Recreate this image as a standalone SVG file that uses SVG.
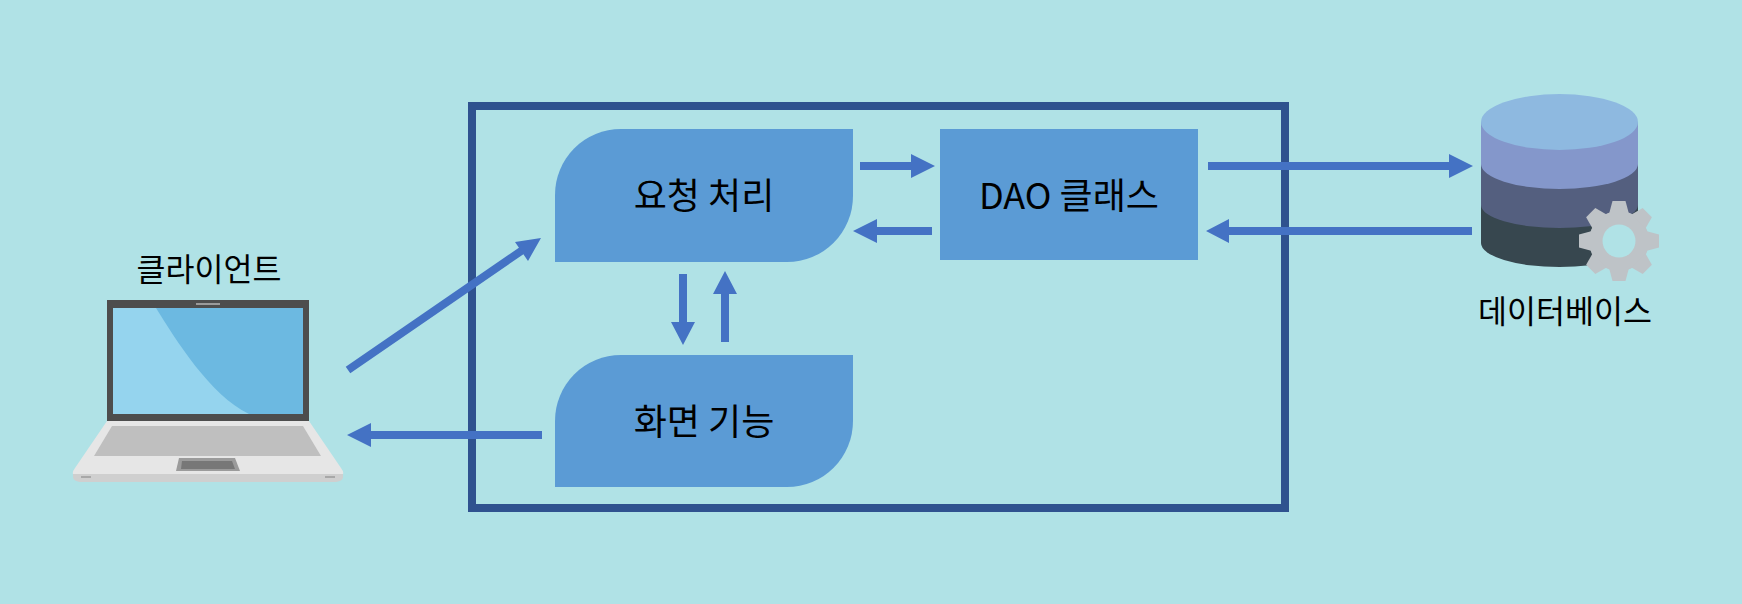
<svg xmlns="http://www.w3.org/2000/svg" width="1742" height="604" viewBox="0 0 1742 604">
<style>
.t{font-family:"Noto Sans CJK KR","Noto Sans",sans-serif;font-size:36px;fill:#000;text-anchor:middle}
.l{font-size:31.500px}
.box{fill:#5B9BD5}
.c{stroke:#4472C4;stroke-width:8;fill:none}
.h{fill:#4472C4}
</style>
<defs><path id="tooth" d="M1609 214L1612.500 201H1625.500L1629 214Z" fill="#BEC3C7"/></defs>
<rect width="1742" height="604" fill="#B0E2E6"/>
<g id="frame"><rect x="472" y="106" width="813" height="402" fill="none" stroke="#2F528F" stroke-width="8"/></g>
<g id="node-request"><path class="box" d="M621 129H853V196A66 66 0 0 1 787 262H555V195A66 66 0 0 1 621 129Z"/><text class="t" x="704" y="209">요청 처리</text></g>
<g id="node-dao"><rect class="box" x="940" y="129" width="258" height="131"/><text class="t" x="1069" y="209">DAO 클래스</text></g>
<g id="node-view"><path class="box" d="M621 355H853V421A66 66 0 0 1 787 487H555V421A66 66 0 0 1 621 355Z"/><text class="t" x="704" y="435">화면 기능</text></g>
<g id="node-client">
<text class="t l" x="209" y="281">클라이언트</text>
<rect x="107" y="300" width="202" height="121" fill="#4D4D4D"/>
<rect x="196" y="303" width="24" height="2" fill="#9A9A9A"/>
<rect x="113" y="308" width="190" height="106" fill="#6CB9E1"/>
<path d="M113 308H156C176 340 210 395 249 414H113Z" fill="#95D4EE"/>
<path d="M107 421H309L341 468Q344 472 343 474H73Q72 472 75 468Z" fill="#E6E6E6"/>
<path d="M73 474H343V477Q343 481 336 482H80Q73 481 73 477Z" fill="#CFCFCF"/>
<path d="M112 426H303L321 456H94Z" fill="#BFBFBF"/>
<path d="M179 458H235L240 471H176Z" fill="#9B9B9B"/>
<path d="M182 461H232L235 469H181Z" fill="#777"/>
<rect x="81" y="476" width="10" height="2" fill="#A8A8A8"/>
<rect x="325" y="476" width="10" height="2" fill="#A8A8A8"/>
</g>
<g id="node-database">
<path d="M1481 200H1638V243A78.500 24 0 0 1 1481 243Z" fill="#37474F"/>
<path d="M1481 150H1638V205A78.500 23 0 0 1 1481 205Z" fill="#545F7F"/>
<path d="M1481 122H1638V164A78.500 25 0 0 1 1481 164Z" fill="#8497CB"/>
<ellipse cx="1559.500" cy="122" rx="78.500" ry="28" fill="#8EB9E0"/>
<circle cx="1619" cy="241" r="30" fill="#BEC3C7"/>
<use href="#tooth"/>
<use href="#tooth" transform="rotate(45 1619 241)"/>
<use href="#tooth" transform="rotate(90 1619 241)"/>
<use href="#tooth" transform="rotate(135 1619 241)"/>
<use href="#tooth" transform="rotate(180 1619 241)"/>
<use href="#tooth" transform="rotate(225 1619 241)"/>
<use href="#tooth" transform="rotate(270 1619 241)"/>
<use href="#tooth" transform="rotate(315 1619 241)"/>
<circle cx="1619" cy="241" r="16.500" fill="#B0E2E6"/>
<text class="t l" x="1565" y="323">데이터베이스</text>
</g>
<g id="connectors">
<path class="c" d="M860 166H913M932 231H875M683 274V324M725 342V292M348 370L524 249M542 435H369M1208 166H1451M1472 231H1227"/>
<path class="h" d="M911 154L935 166L911 178ZM877 219V243L853 231ZM671 322H695L683 345ZM713 294H737L725 271ZM541 238L528 261L515 242ZM371 423V447L347 435ZM1449 154L1473 166L1449 178ZM1229 219V243L1206 231Z"/>
</g>
</svg>
